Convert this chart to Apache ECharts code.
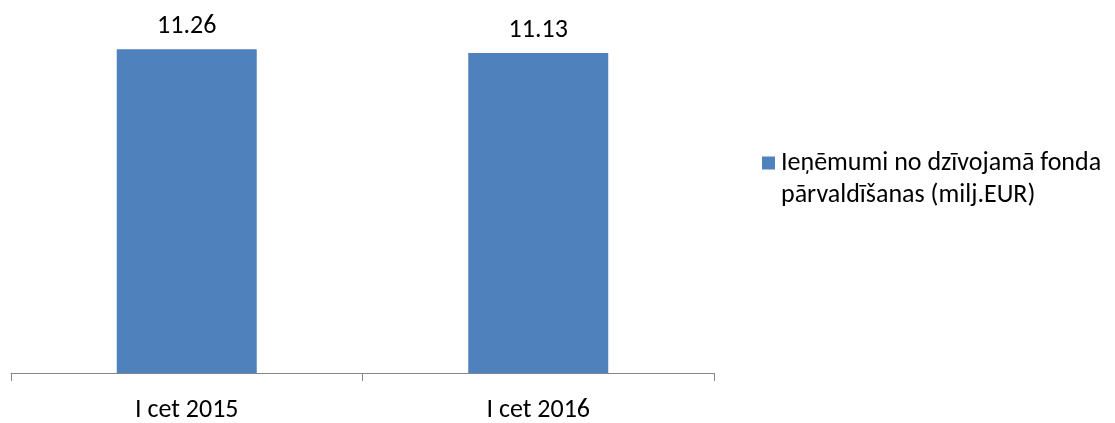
<!DOCTYPE html>
<html>
<head>
<meta charset="utf-8">
<script src="https://cdn.jsdelivr.net/npm/echarts@6/dist/echarts.min.js"></script>
<style>
  html, body { margin: 0; padding: 0; background: #fff; }
  #chart { width: 1115px; height: 423px; }
</style>
</head>
<body>
<div id="chart"></div>
<script>
var categories = ['I cet 2015', 'I cet 2016']
var seriesName = 'Ieņēmumi no dzīvojamā fonda\npārvaldīšanas (milj.EUR)'
var values = [11.26, 11.13]

var font = 'Carlito, Calibri, Lato, sans-serif'
var myChart = echarts.init(document.getElementById('chart'))
var option = {
  animation: false,
  textStyle: { fontFamily: font },
  grid: {
    left: 11,
    right: 401,
    top: 28,
    bottom: 46
  },
  legend: {
    show: true,
    left: 762,
    top: 147,
    padding: 0,
    itemWidth: 13,
    itemHeight: 45,
    itemGap: 0,
    // square sits at the top so it lines up with the first text line
    icon: 'path://M0,0L13,0L13,13L0,13Z M0,45L0.01,45',
    textStyle: {
      fontFamily: font,
      fontSize: 26,
      color: '#000',
      lineHeight: 32,
      padding: [0, 0, 0, 1]
    },
    data: [seriesName]
  },
  xAxis: {
    type: 'category',
    data: categories,
    axisLine: { lineStyle: { color: '#868686', width: 1 } },
    axisTick: { show: true, length: 8, lineStyle: { color: '#868686' } },
    axisLabel: { color: '#000', fontSize: 26, margin: 24, fontFamily: font }
  },
  yAxis: {
    type: 'value',
    min: 0,
    max: 12,
    show: false,
    splitLine: { show: false }
  },
  series: [
    {
      name: seriesName,
      type: 'bar',
      barWidth: 140,
      data: values,
      itemStyle: { color: '#4F81BD' },
      label: {
        show: true,
        position: 'top',
        distance: 10,
        color: '#000',
        fontSize: 26,
        fontFamily: font,
        formatter: function (p) { return p.value.toFixed(2) }
      }
    }
  ]
}
myChart.setOption(option)
</script>
</body>
</html>
